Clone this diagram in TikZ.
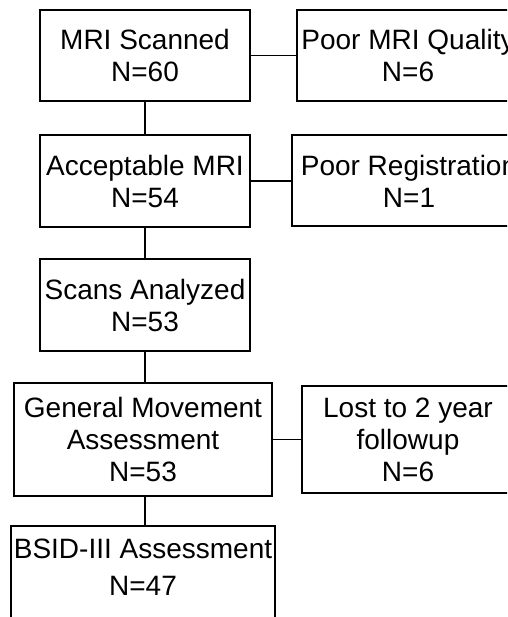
\documentclass[tikz,border=0pt]{standalone}
\usepackage{fontspec}
\setmainfont{Liberation Sans}
\usetikzlibrary{positioning}

\begin{document}
\begin{tikzpicture}[
  x=1pt, y=-1pt,
  box/.style={draw=black, fill=white, line width=2pt, font=\fontsize{28}{32}\selectfont, align=center, inner sep=3pt, minimum width=210pt, minimum height=92pt},
  link/.style={line width=1.6pt, color=black}
]
\useasboundingbox (0,0) rectangle (507,617);
\clip (0,0) rectangle (507,617);

% main column
\node[box, minimum height=91pt] (scan) at (145,55.5) {MRI Scanned\\N=60};
\node[box, below=32pt of scan] (accept) {Acceptable MRI\\N=54};
\node[box, below=30pt of accept] (scans) {Scans Analyzed\\N=53};
\node[box, below=30pt of scans, xshift=-2pt, minimum width=258pt, minimum height=113pt] (gma) {General Movement\\Assessment\\N=53};
\node[box, below=28pt of gma, minimum width=262pt, minimum height=114pt, text depth=32pt] (bsid) {BSID-III Assessment\\[5pt]N=47};

% exclusions
\node[box, right=45pt of scan, minimum width=222pt, minimum height=91pt] (poorq) {Poor MRI Quality\\N=6};
\node[box, right=40pt of accept, minimum width=234pt, minimum height=91pt] (poorreg) {Poor Registration\\N=1};
\node[box, right=28pt of gma, minimum width=212pt, minimum height=107pt] (lost) {Lost to 2 year\\followup\\N=6};

\draw[link] (scan) -- (accept);
\draw[link] (accept) -- (scans);
\draw[link] (scans.south) -- (scans.south |- gma.north);
\draw[link] (scans.south |- gma.south) -- (scans.south |- bsid.north);
\draw[link] (scan) -- (poorq);
\draw[link] (accept) -- (poorreg);
\draw[link] (gma) -- (lost);
\end{tikzpicture}
\end{document}
